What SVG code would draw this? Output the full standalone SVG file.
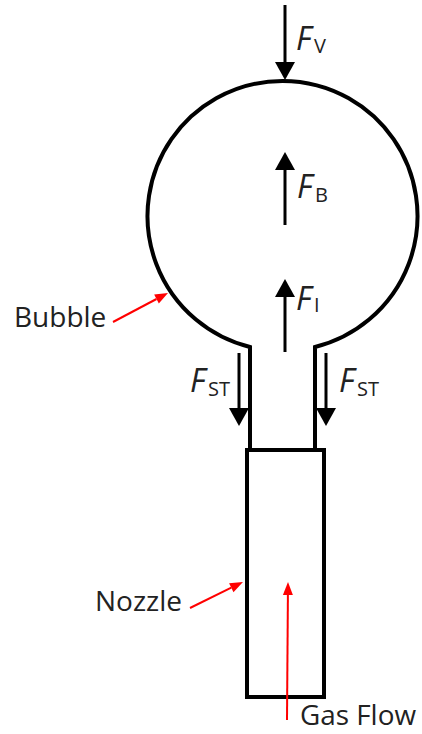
<svg xmlns="http://www.w3.org/2000/svg" width="422" height="734" viewBox="0 0 422 734">
<style>
.shape{fill:none;stroke:#000;stroke-width:4}
.force{stroke:#000;stroke-width:3;fill:none;marker-end:url(#blk)}
.ptr{stroke:#f00;stroke-width:2;fill:none;marker-end:url(#red)}
.lbl{font-family:"Open Sans","Noto Sans",sans-serif;font-size:28px;fill:#222}
.fF{font-family:"Open Sans","Noto Sans",sans-serif;font-size:32px;font-style:italic;fill:#222}
.fs{font-family:"Open Sans","Noto Sans",sans-serif;font-size:20px;fill:#222}
</style>
<defs>
<marker id="blk" markerUnits="userSpaceOnUse" markerWidth="18" markerHeight="20" refX="0" refY="10" orient="auto" overflow="visible">
<path d="M0,0 L18,10 L0,20 z" fill="#000"/>
</marker>
<marker id="red" markerUnits="userSpaceOnUse" markerWidth="12" markerHeight="10" refX="0" refY="5" orient="auto" overflow="visible">
<path d="M0,0 L13,5 L0,10 z" fill="#f00"/>
</marker>
</defs>
<rect width="422" height="734" fill="#fff"/>
<g id="bubble">
<path class="shape" d="M250,450 L250,347 A135,135 0 1 1 315,347 L315,450"/>
</g>
<g id="nozzle">
<rect class="shape" x="247" y="450" width="77" height="247"/>
</g>
<g id="connectors">
<line class="force" x1="285" y1="5" x2="285" y2="62"/>
<line class="force" x1="285" y1="225" x2="285" y2="170"/>
<line class="force" x1="285" y1="352" x2="285" y2="297"/>
<line class="force" x1="239" y1="353" x2="239" y2="408"/>
<line class="force" x1="326" y1="353" x2="326" y2="408"/>
<line class="ptr" x1="113" y1="322" x2="156.5" y2="299"/>
<line class="ptr" x1="190" y1="608" x2="231.3" y2="587.7"/>
<line class="ptr" x1="287" y1="720" x2="287.9" y2="595"/>
</g>
<g id="labels">
<text class="fF" x="296" y="50">F</text><text class="fs" x="314" y="53">V</text>
<text class="fF" x="297" y="198">F</text><text class="fs" x="315" y="202">B</text>
<text class="fF" x="296" y="310">F</text><text class="fs" x="314" y="312">I</text>
<text class="fF" x="190" y="392">F</text><text class="fs" x="208" y="396">ST</text>
<text class="fF" x="339" y="392">F</text><text class="fs" x="357" y="396">ST</text>
<text class="lbl" x="14" y="327">Bubble</text>
<text class="lbl" x="95" y="611">Nozzle</text>
<text class="lbl" x="300" y="725" font-size="26" textLength="116" lengthAdjust="spacingAndGlyphs">Gas Flow</text>
</g>
</svg>
